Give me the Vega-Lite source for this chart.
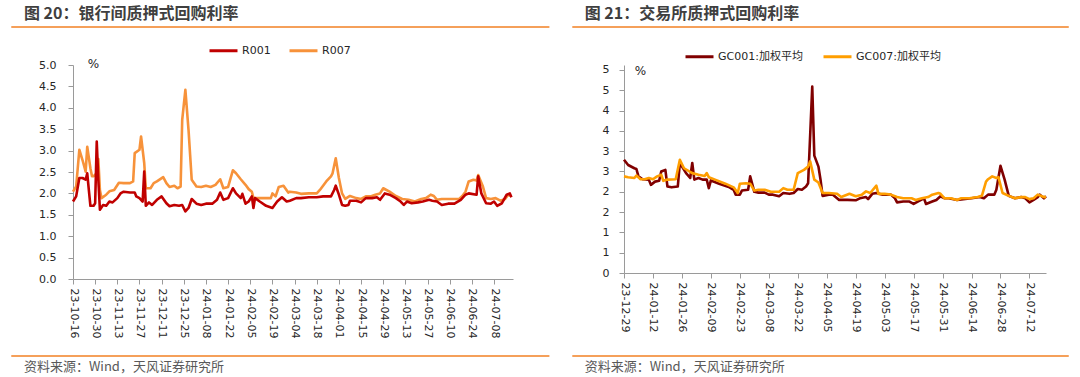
{
  "$schema": "https://vega.github.io/schema/vega-lite/v6.json",
  "padding": {"left": 10, "top": 6, "right": 0, "bottom": 0},
  "bounds": "flush",
  "spacing": 111,
  "config": {
    "view": {"stroke": null},
    "font": "DejaVu Sans",
    "axis": {"grid": false, "domainColor": "#9A9A9A", "tickColor": "#9A9A9A", "labelFont": "DejaVu Sans", "labelFontSize": 11, "labelColor": "#262626", "tickSize": 5}
  },
  "resolve": {"scale": {"x": "independent", "y": "independent", "color": "independent"}, "legend": {"color": "independent"}},
  "hconcat": [
    {
      "width": 440,
      "height": 214,
      "layer": [
        {
          "data": {"values": [
            {"date": "2023/10/16", "series": "R007", "value": 2.04},
            {"date": "2023/10/18", "series": "R007", "value": 2.16},
            {"date": "2023/10/20", "series": "R007", "value": 3.02},
            {"date": "2023/10/22", "series": "R007", "value": 2.78},
            {"date": "2023/10/24", "series": "R007", "value": 2.51},
            {"date": "2023/10/25", "series": "R007", "value": 3.09},
            {"date": "2023/10/27", "series": "R007", "value": 2.59},
            {"date": "2023/10/28", "series": "R007", "value": 2.4},
            {"date": "2023/10/29", "series": "R007", "value": 2.4},
            {"date": "2023/10/31", "series": "R007", "value": 2.47},
            {"date": "2023/11/01", "series": "R007", "value": 2.8},
            {"date": "2023/11/02", "series": "R007", "value": 2.08},
            {"date": "2023/11/03", "series": "R007", "value": 1.89},
            {"date": "2023/11/06", "series": "R007", "value": 1.97},
            {"date": "2023/11/08", "series": "R007", "value": 2.05},
            {"date": "2023/11/11", "series": "R007", "value": 2.08},
            {"date": "2023/11/14", "series": "R007", "value": 2.25},
            {"date": "2023/11/17", "series": "R007", "value": 2.24},
            {"date": "2023/11/21", "series": "R007", "value": 2.24},
            {"date": "2023/11/23", "series": "R007", "value": 2.28},
            {"date": "2023/11/24", "series": "R007", "value": 2.94},
            {"date": "2023/11/27", "series": "R007", "value": 3.02},
            {"date": "2023/11/28", "series": "R007", "value": 3.33},
            {"date": "2023/11/30", "series": "R007", "value": 2.71},
            {"date": "2023/12/01", "series": "R007", "value": 2.12},
            {"date": "2023/12/04", "series": "R007", "value": 2.12},
            {"date": "2023/12/06", "series": "R007", "value": 2.24},
            {"date": "2023/12/08", "series": "R007", "value": 2.28},
            {"date": "2023/12/12", "series": "R007", "value": 2.38},
            {"date": "2023/12/14", "series": "R007", "value": 2.24},
            {"date": "2023/12/16", "series": "R007", "value": 2.15},
            {"date": "2023/12/19", "series": "R007", "value": 2.18},
            {"date": "2023/12/21", "series": "R007", "value": 2.12},
            {"date": "2023/12/23", "series": "R007", "value": 2.16},
            {"date": "2023/12/24", "series": "R007", "value": 3.72},
            {"date": "2023/12/26", "series": "R007", "value": 4.42},
            {"date": "2023/12/28", "series": "R007", "value": 3.48},
            {"date": "2023/12/30", "series": "R007", "value": 2.32},
            {"date": "2024/01/02", "series": "R007", "value": 2.16},
            {"date": "2024/01/05", "series": "R007", "value": 2.15},
            {"date": "2024/01/08", "series": "R007", "value": 2.18},
            {"date": "2024/01/11", "series": "R007", "value": 2.15},
            {"date": "2024/01/14", "series": "R007", "value": 2.2},
            {"date": "2024/01/17", "series": "R007", "value": 2.33},
            {"date": "2024/01/19", "series": "R007", "value": 2.12},
            {"date": "2024/01/22", "series": "R007", "value": 2.15},
            {"date": "2024/01/25", "series": "R007", "value": 2.54},
            {"date": "2024/01/27", "series": "R007", "value": 2.47},
            {"date": "2024/01/30", "series": "R007", "value": 2.33},
            {"date": "2024/02/02", "series": "R007", "value": 2.2},
            {"date": "2024/02/04", "series": "R007", "value": 2.1},
            {"date": "2024/02/06", "series": "R007", "value": 2.04},
            {"date": "2024/02/07", "series": "R007", "value": 1.89},
            {"date": "2024/02/11", "series": "R007", "value": 1.89},
            {"date": "2024/02/15", "series": "R007", "value": 1.89},
            {"date": "2024/02/18", "series": "R007", "value": 1.89},
            {"date": "2024/02/19", "series": "R007", "value": 2.0},
            {"date": "2024/02/21", "series": "R007", "value": 1.93},
            {"date": "2024/02/23", "series": "R007", "value": 2.15},
            {"date": "2024/02/26", "series": "R007", "value": 2.18},
            {"date": "2024/02/29", "series": "R007", "value": 2.02},
            {"date": "2024/03/01", "series": "R007", "value": 2.04},
            {"date": "2024/03/05", "series": "R007", "value": 2.02},
            {"date": "2024/03/08", "series": "R007", "value": 1.99},
            {"date": "2024/03/13", "series": "R007", "value": 2.0},
            {"date": "2024/03/18", "series": "R007", "value": 2.0},
            {"date": "2024/03/20", "series": "R007", "value": 2.08},
            {"date": "2024/03/24", "series": "R007", "value": 2.28},
            {"date": "2024/03/27", "series": "R007", "value": 2.4},
            {"date": "2024/03/28", "series": "R007", "value": 2.47},
            {"date": "2024/03/30", "series": "R007", "value": 2.82},
            {"date": "2024/04/01", "series": "R007", "value": 2.36},
            {"date": "2024/04/03", "series": "R007", "value": 2.0},
            {"date": "2024/04/05", "series": "R007", "value": 1.87},
            {"date": "2024/04/08", "series": "R007", "value": 1.94},
            {"date": "2024/04/12", "series": "R007", "value": 1.89},
            {"date": "2024/04/15", "series": "R007", "value": 1.87},
            {"date": "2024/04/18", "series": "R007", "value": 1.93},
            {"date": "2024/04/21", "series": "R007", "value": 1.93},
            {"date": "2024/04/24", "series": "R007", "value": 1.97},
            {"date": "2024/04/27", "series": "R007", "value": 2.0},
            {"date": "2024/04/29", "series": "R007", "value": 2.12},
            {"date": "2024/05/03", "series": "R007", "value": 2.04},
            {"date": "2024/05/07", "series": "R007", "value": 1.94},
            {"date": "2024/05/11", "series": "R007", "value": 1.87},
            {"date": "2024/05/15", "series": "R007", "value": 1.85},
            {"date": "2024/05/19", "series": "R007", "value": 1.81},
            {"date": "2024/05/23", "series": "R007", "value": 1.87},
            {"date": "2024/05/26", "series": "R007", "value": 1.89},
            {"date": "2024/05/29", "series": "R007", "value": 1.97},
            {"date": "2024/05/31", "series": "R007", "value": 1.94},
            {"date": "2024/06/02", "series": "R007", "value": 1.85},
            {"date": "2024/06/05", "series": "R007", "value": 1.87},
            {"date": "2024/06/11", "series": "R007", "value": 1.87},
            {"date": "2024/06/16", "series": "R007", "value": 1.87},
            {"date": "2024/06/18", "series": "R007", "value": 1.94},
            {"date": "2024/06/20", "series": "R007", "value": 2.04},
            {"date": "2024/06/22", "series": "R007", "value": 2.28},
            {"date": "2024/06/25", "series": "R007", "value": 2.32},
            {"date": "2024/06/27", "series": "R007", "value": 2.3},
            {"date": "2024/06/28", "series": "R007", "value": 2.43},
            {"date": "2024/07/01", "series": "R007", "value": 2.16},
            {"date": "2024/07/03", "series": "R007", "value": 1.89},
            {"date": "2024/07/06", "series": "R007", "value": 1.87},
            {"date": "2024/07/09", "series": "R007", "value": 1.89},
            {"date": "2024/07/12", "series": "R007", "value": 1.83},
            {"date": "2024/07/15", "series": "R007", "value": 1.87},
            {"date": "2024/07/17", "series": "R007", "value": 1.97},
            {"date": "2024/07/19", "series": "R007", "value": 1.93},
            {"date": "2023/10/16", "series": "R001", "value": 1.81},
            {"date": "2023/10/18", "series": "R001", "value": 1.93},
            {"date": "2023/10/20", "series": "R001", "value": 2.36},
            {"date": "2023/10/22", "series": "R001", "value": 2.36},
            {"date": "2023/10/24", "series": "R001", "value": 2.32},
            {"date": "2023/10/25", "series": "R001", "value": 2.47},
            {"date": "2023/10/26", "series": "R001", "value": 2.08},
            {"date": "2023/10/27", "series": "R001", "value": 1.71},
            {"date": "2023/10/29", "series": "R001", "value": 1.71},
            {"date": "2023/10/30", "series": "R001", "value": 1.77},
            {"date": "2023/10/31", "series": "R001", "value": 3.21},
            {"date": "2023/11/01", "series": "R001", "value": 2.32},
            {"date": "2023/11/02", "series": "R001", "value": 1.62},
            {"date": "2023/11/04", "series": "R001", "value": 1.73},
            {"date": "2023/11/06", "series": "R001", "value": 1.71},
            {"date": "2023/11/08", "series": "R001", "value": 1.81},
            {"date": "2023/11/10", "series": "R001", "value": 1.79},
            {"date": "2023/11/13", "series": "R001", "value": 1.89},
            {"date": "2023/11/15", "series": "R001", "value": 2.0},
            {"date": "2023/11/17", "series": "R001", "value": 2.04},
            {"date": "2023/11/21", "series": "R001", "value": 2.02},
            {"date": "2023/11/24", "series": "R001", "value": 2.02},
            {"date": "2023/11/25", "series": "R001", "value": 1.93},
            {"date": "2023/11/27", "series": "R001", "value": 1.89},
            {"date": "2023/11/29", "series": "R001", "value": 1.81},
            {"date": "2023/11/30", "series": "R001", "value": 2.51},
            {"date": "2023/12/01", "series": "R001", "value": 1.71},
            {"date": "2023/12/03", "series": "R001", "value": 1.79},
            {"date": "2023/12/05", "series": "R001", "value": 1.73},
            {"date": "2023/12/08", "series": "R001", "value": 1.85},
            {"date": "2023/12/11", "series": "R001", "value": 1.93},
            {"date": "2023/12/14", "series": "R001", "value": 1.77},
            {"date": "2023/12/16", "series": "R001", "value": 1.7},
            {"date": "2023/12/19", "series": "R001", "value": 1.73},
            {"date": "2023/12/22", "series": "R001", "value": 1.71},
            {"date": "2023/12/24", "series": "R001", "value": 1.73},
            {"date": "2023/12/26", "series": "R001", "value": 1.58},
            {"date": "2023/12/28", "series": "R001", "value": 1.66},
            {"date": "2023/12/30", "series": "R001", "value": 1.87},
            {"date": "2024/01/02", "series": "R001", "value": 1.76},
            {"date": "2024/01/05", "series": "R001", "value": 1.73},
            {"date": "2024/01/08", "series": "R001", "value": 1.76},
            {"date": "2024/01/12", "series": "R001", "value": 1.76},
            {"date": "2024/01/15", "series": "R001", "value": 1.85},
            {"date": "2024/01/17", "series": "R001", "value": 2.02},
            {"date": "2024/01/19", "series": "R001", "value": 1.85},
            {"date": "2024/01/22", "series": "R001", "value": 1.89},
            {"date": "2024/01/25", "series": "R001", "value": 2.12},
            {"date": "2024/01/27", "series": "R001", "value": 2.0},
            {"date": "2024/01/30", "series": "R001", "value": 1.89},
            {"date": "2024/01/31", "series": "R001", "value": 1.99},
            {"date": "2024/02/02", "series": "R001", "value": 1.76},
            {"date": "2024/02/04", "series": "R001", "value": 1.81},
            {"date": "2024/02/06", "series": "R001", "value": 1.93},
            {"date": "2024/02/07", "series": "R001", "value": 1.66},
            {"date": "2024/02/08", "series": "R001", "value": 1.89},
            {"date": "2024/02/11", "series": "R001", "value": 1.81},
            {"date": "2024/02/15", "series": "R001", "value": 1.71},
            {"date": "2024/02/19", "series": "R001", "value": 1.66},
            {"date": "2024/02/22", "series": "R001", "value": 1.81},
            {"date": "2024/02/25", "series": "R001", "value": 1.91},
            {"date": "2024/02/28", "series": "R001", "value": 1.81},
            {"date": "2024/03/01", "series": "R001", "value": 1.83},
            {"date": "2024/03/05", "series": "R001", "value": 1.89},
            {"date": "2024/03/08", "series": "R001", "value": 1.89},
            {"date": "2024/03/13", "series": "R001", "value": 1.91},
            {"date": "2024/03/18", "series": "R001", "value": 1.91},
            {"date": "2024/03/22", "series": "R001", "value": 1.93},
            {"date": "2024/03/27", "series": "R001", "value": 1.93},
            {"date": "2024/03/29", "series": "R001", "value": 2.08},
            {"date": "2024/03/30", "series": "R001", "value": 2.18},
            {"date": "2024/04/01", "series": "R001", "value": 1.97},
            {"date": "2024/04/03", "series": "R001", "value": 1.73},
            {"date": "2024/04/05", "series": "R001", "value": 1.71},
            {"date": "2024/04/07", "series": "R001", "value": 1.73},
            {"date": "2024/04/08", "series": "R001", "value": 1.83},
            {"date": "2024/04/12", "series": "R001", "value": 1.83},
            {"date": "2024/04/15", "series": "R001", "value": 1.79},
            {"date": "2024/04/18", "series": "R001", "value": 1.89},
            {"date": "2024/04/22", "series": "R001", "value": 1.89},
            {"date": "2024/04/25", "series": "R001", "value": 1.91},
            {"date": "2024/04/27", "series": "R001", "value": 1.85},
            {"date": "2024/04/30", "series": "R001", "value": 2.0},
            {"date": "2024/05/03", "series": "R001", "value": 1.97},
            {"date": "2024/05/07", "series": "R001", "value": 1.89},
            {"date": "2024/05/10", "series": "R001", "value": 1.81},
            {"date": "2024/05/12", "series": "R001", "value": 1.73},
            {"date": "2024/05/14", "series": "R001", "value": 1.81},
            {"date": "2024/05/17", "series": "R001", "value": 1.77},
            {"date": "2024/05/21", "series": "R001", "value": 1.79},
            {"date": "2024/05/24", "series": "R001", "value": 1.81},
            {"date": "2024/05/28", "series": "R001", "value": 1.85},
            {"date": "2024/05/30", "series": "R001", "value": 1.83},
            {"date": "2024/06/02", "series": "R001", "value": 1.81},
            {"date": "2024/06/05", "series": "R001", "value": 1.73},
            {"date": "2024/06/09", "series": "R001", "value": 1.76},
            {"date": "2024/06/13", "series": "R001", "value": 1.76},
            {"date": "2024/06/17", "series": "R001", "value": 1.85},
            {"date": "2024/06/20", "series": "R001", "value": 1.97},
            {"date": "2024/06/22", "series": "R001", "value": 2.0},
            {"date": "2024/06/27", "series": "R001", "value": 1.97},
            {"date": "2024/06/28", "series": "R001", "value": 2.4},
            {"date": "2024/06/30", "series": "R001", "value": 2.0},
            {"date": "2024/07/03", "series": "R001", "value": 1.77},
            {"date": "2024/07/06", "series": "R001", "value": 1.76},
            {"date": "2024/07/08", "series": "R001", "value": 1.81},
            {"date": "2024/07/10", "series": "R001", "value": 1.71},
            {"date": "2024/07/13", "series": "R001", "value": 1.77},
            {"date": "2024/07/16", "series": "R001", "value": 1.97},
            {"date": "2024/07/18", "series": "R001", "value": 2.0},
            {"date": "2024/07/19", "series": "R001", "value": 1.91}
          ]},
          "mark": {"type": "line", "strokeWidth": 2.6, "strokeJoin": "round"},
          "encoding": {
            "x": {"field": "date", "type": "temporal",
              "scale": {"domain": [{"year": 2023, "month": 10, "date": 16}, {"year": 2024, "month": 7, "date": 20}]},
              "axis": {"title": null, "format": "%y-%m-%d", "labelAngle": 90, "labelAlign": "left", "labelBaseline": "middle", "labelPadding": 4, "labelOverlap": false, "tickCount": 60,
                "values": [
                  {"year": 2023, "month": 10, "date": 16}, {"year": 2023, "month": 10, "date": 30}, {"year": 2023, "month": 11, "date": 13}, {"year": 2023, "month": 11, "date": 27},
                  {"year": 2023, "month": 12, "date": 11}, {"year": 2023, "month": 12, "date": 25}, {"year": 2024, "month": 1, "date": 8}, {"year": 2024, "month": 1, "date": 22},
                  {"year": 2024, "month": 2, "date": 5}, {"year": 2024, "month": 2, "date": 19}, {"year": 2024, "month": 3, "date": 4}, {"year": 2024, "month": 3, "date": 18},
                  {"year": 2024, "month": 4, "date": 1}, {"year": 2024, "month": 4, "date": 15}, {"year": 2024, "month": 4, "date": 29}, {"year": 2024, "month": 5, "date": 13},
                  {"year": 2024, "month": 5, "date": 27}, {"year": 2024, "month": 6, "date": 10}, {"year": 2024, "month": 6, "date": 24}, {"year": 2024, "month": 7, "date": 8}
                ]}},
            "y": {"field": "value", "type": "quantitative",
              "scale": {"domain": [0, 5], "nice": false, "zero": false},
              "axis": {"title": null, "format": ".1f", "values": [0, 0.5, 1, 1.5, 2, 2.5, 3, 3.5, 4, 4.5, 5], "tickCount": 60, "labelOverlap": false, "labelPadding": 12}},
            "color": {"field": "series", "type": "nominal",
              "scale": {"domain": ["R001", "R007"], "range": ["#C00000", "#F7923A"]},
              "legend": {"orient": "none", "legendX": 135, "legendY": -30, "direction": "horizontal", "title": null, "symbolType": "stroke", "symbolSize": 784, "symbolStrokeWidth": 3, "labelFont": "DejaVu Sans", "labelFontSize": 11, "labelColor": "#262626", "labelOffset": 3, "columnPadding": 12}}
          }
        },
        {
          "data": {"values": [{}]},
          "mark": {"type": "rule", "color": "#F5A05A", "strokeWidth": 2},
          "encoding": {
            "x": {"datum": {"year": 2023, "month": 9, "date": 7}, "type": "temporal", "title": null, "scale": {"domain": [{"year": 2023, "month": 10, "date": 16}, {"year": 2024, "month": 7, "date": 20}]}},
            "x2": {"datum": {"year": 2024, "month": 8, "date": 12}},
            "y": {"datum": 5.888, "type": "quantitative", "title": null, "scale": {"domain": [0, 5], "nice": false, "zero": false}}
          }
        },
        {
          "data": {"values": [{}]},
          "mark": {"type": "rule", "color": "#F5A05A", "strokeWidth": 2},
          "encoding": {
            "x": {"datum": {"year": 2023, "month": 9, "date": 7}, "type": "temporal", "title": null, "scale": {"domain": [{"year": 2023, "month": 10, "date": 16}, {"year": 2024, "month": 7, "date": 20}]}},
            "x2": {"datum": {"year": 2024, "month": 8, "date": 12}},
            "y": {"datum": -1.8, "type": "quantitative", "title": null, "scale": {"domain": [0, 5], "nice": false, "zero": false}}
          }
        },
        {
          "data": {"values": [{}]},
          "mark": {"type": "text", "text": "图 20：银行间质押式回购利率", "align": "left", "baseline": "middle", "font": "Noto Sans CJK SC", "fontSize": 16, "fontWeight": "bold", "color": "#3F3F3F"},
          "encoding": {
            "x": {"datum": {"year": 2023, "month": 9, "date": 15}, "type": "temporal", "title": null, "scale": {"domain": [{"year": 2023, "month": 10, "date": 16}, {"year": 2024, "month": 7, "date": 20}]}},
            "y": {"datum": 6.19, "type": "quantitative", "title": null, "scale": {"domain": [0, 5], "nice": false, "zero": false}}
          }
        },
        {
          "data": {"values": [{}]},
          "mark": {"type": "text", "text": "资料来源：Wind，天风证券研究所", "align": "left", "baseline": "middle", "font": "Noto Sans CJK SC", "fontSize": 13, "color": "#595959"},
          "encoding": {
            "x": {"datum": {"year": 2023, "month": 9, "date": 15}, "type": "temporal", "title": null, "scale": {"domain": [{"year": 2023, "month": 10, "date": 16}, {"year": 2024, "month": 7, "date": 20}]}},
            "y": {"datum": -2.06, "type": "quantitative", "title": null, "scale": {"domain": [0, 5], "nice": false, "zero": false}}
          }
        },
        {
          "data": {"values": [{}]},
          "mark": {"type": "text", "text": "%", "align": "center", "baseline": "middle", "font": "DejaVu Sans", "fontSize": 12, "color": "#262626"},
          "encoding": {
            "x": {"datum": {"year": 2023, "month": 10, "date": 29}, "type": "temporal", "title": null, "scale": {"domain": [{"year": 2023, "month": 10, "date": 16}, {"year": 2024, "month": 7, "date": 20}]}},
            "y": {"datum": 5.02, "type": "quantitative", "title": null, "scale": {"domain": [0, 5], "nice": false, "zero": false}}
          }
        }
      ]
    },
    {
      "width": 422,
      "height": 208,
      "layer": [
        {
          "data": {"values": [
            {"date": "2023/12/29", "series": "GC001:加权平均", "value": 2.79},
            {"date": "2023/12/31", "series": "GC001:加权平均", "value": 2.66},
            {"date": "2024/01/03", "series": "GC001:加权平均", "value": 2.58},
            {"date": "2024/01/04", "series": "GC001:加权平均", "value": 2.56},
            {"date": "2024/01/05", "series": "GC001:加权平均", "value": 2.38},
            {"date": "2024/01/07", "series": "GC001:加权平均", "value": 2.31},
            {"date": "2024/01/10", "series": "GC001:加权平均", "value": 2.3},
            {"date": "2024/01/11", "series": "GC001:加权平均", "value": 2.17},
            {"date": "2024/01/13", "series": "GC001:加权平均", "value": 2.25},
            {"date": "2024/01/15", "series": "GC001:加权平均", "value": 2.27},
            {"date": "2024/01/16", "series": "GC001:加权平均", "value": 2.5},
            {"date": "2024/01/18", "series": "GC001:加权平均", "value": 2.54},
            {"date": "2024/01/19", "series": "GC001:加权平均", "value": 2.13},
            {"date": "2024/01/21", "series": "GC001:加权平均", "value": 2.11},
            {"date": "2024/01/24", "series": "GC001:加权平均", "value": 2.13},
            {"date": "2024/01/25", "series": "GC001:加权平均", "value": 2.71},
            {"date": "2024/01/28", "series": "GC001:加权平均", "value": 2.46},
            {"date": "2024/01/30", "series": "GC001:加权平均", "value": 2.34},
            {"date": "2024/01/31", "series": "GC001:加权平均", "value": 2.71},
            {"date": "2024/02/01", "series": "GC001:加权平均", "value": 2.3},
            {"date": "2024/02/03", "series": "GC001:加权平均", "value": 2.34},
            {"date": "2024/02/05", "series": "GC001:加权平均", "value": 2.3},
            {"date": "2024/02/07", "series": "GC001:加权平均", "value": 2.3},
            {"date": "2024/02/08", "series": "GC001:加权平均", "value": 2.09},
            {"date": "2024/02/09", "series": "GC001:加权平均", "value": 2.28},
            {"date": "2024/02/13", "series": "GC001:加权平均", "value": 2.2},
            {"date": "2024/02/18", "series": "GC001:加权平均", "value": 2.11},
            {"date": "2024/02/20", "series": "GC001:加权平均", "value": 2.05},
            {"date": "2024/02/21", "series": "GC001:加权平均", "value": 1.93},
            {"date": "2024/02/23", "series": "GC001:加权平均", "value": 1.93},
            {"date": "2024/02/24", "series": "GC001:加权平均", "value": 2.03},
            {"date": "2024/02/27", "series": "GC001:加权平均", "value": 2.05},
            {"date": "2024/02/28", "series": "GC001:加权平均", "value": 2.38},
            {"date": "2024/03/01", "series": "GC001:加权平均", "value": 2.0},
            {"date": "2024/03/03", "series": "GC001:加权平均", "value": 1.98},
            {"date": "2024/03/06", "series": "GC001:加权平均", "value": 1.98},
            {"date": "2024/03/08", "series": "GC001:加权平均", "value": 1.93},
            {"date": "2024/03/10", "series": "GC001:加权平均", "value": 1.93},
            {"date": "2024/03/13", "series": "GC001:加权平均", "value": 1.89},
            {"date": "2024/03/15", "series": "GC001:加权平均", "value": 1.97},
            {"date": "2024/03/18", "series": "GC001:加权平均", "value": 1.95},
            {"date": "2024/03/20", "series": "GC001:加权平均", "value": 1.97},
            {"date": "2024/03/22", "series": "GC001:加权平均", "value": 2.07},
            {"date": "2024/03/24", "series": "GC001:加权平均", "value": 2.05},
            {"date": "2024/03/26", "series": "GC001:加权平均", "value": 2.13},
            {"date": "2024/03/27", "series": "GC001:加权平均", "value": 2.21},
            {"date": "2024/03/29", "series": "GC001:加权平均", "value": 4.59},
            {"date": "2024/03/30", "series": "GC001:加权平均", "value": 2.89},
            {"date": "2024/04/01", "series": "GC001:加权平均", "value": 2.62},
            {"date": "2024/04/02", "series": "GC001:加权平均", "value": 2.3},
            {"date": "2024/04/03", "series": "GC001:加权平均", "value": 1.9},
            {"date": "2024/04/06", "series": "GC001:加权平均", "value": 1.93},
            {"date": "2024/04/08", "series": "GC001:加权平均", "value": 1.93},
            {"date": "2024/04/11", "series": "GC001:加权平均", "value": 1.8},
            {"date": "2024/04/15", "series": "GC001:加权平均", "value": 1.8},
            {"date": "2024/04/19", "series": "GC001:加权平均", "value": 1.79},
            {"date": "2024/04/21", "series": "GC001:加权平均", "value": 1.84},
            {"date": "2024/04/24", "series": "GC001:加权平均", "value": 1.87},
            {"date": "2024/04/25", "series": "GC001:加权平均", "value": 1.82},
            {"date": "2024/04/27", "series": "GC001:加权平均", "value": 1.95},
            {"date": "2024/04/29", "series": "GC001:加权平均", "value": 1.97},
            {"date": "2024/05/02", "series": "GC001:加权平均", "value": 1.93},
            {"date": "2024/05/06", "series": "GC001:加权平均", "value": 1.93},
            {"date": "2024/05/08", "series": "GC001:加权平均", "value": 1.84},
            {"date": "2024/05/09", "series": "GC001:加权平均", "value": 1.74},
            {"date": "2024/05/12", "series": "GC001:加权平均", "value": 1.76},
            {"date": "2024/05/15", "series": "GC001:加权平均", "value": 1.76},
            {"date": "2024/05/17", "series": "GC001:加权平均", "value": 1.7},
            {"date": "2024/05/19", "series": "GC001:加权平均", "value": 1.76},
            {"date": "2024/05/22", "series": "GC001:加权平均", "value": 1.84},
            {"date": "2024/05/23", "series": "GC001:加权平均", "value": 1.7},
            {"date": "2024/05/26", "series": "GC001:加权平均", "value": 1.76},
            {"date": "2024/05/28", "series": "GC001:加权平均", "value": 1.8},
            {"date": "2024/05/30", "series": "GC001:加权平均", "value": 1.89},
            {"date": "2024/06/01", "series": "GC001:加权平均", "value": 1.84},
            {"date": "2024/06/03", "series": "GC001:加权平均", "value": 1.84},
            {"date": "2024/06/07", "series": "GC001:加权平均", "value": 1.8},
            {"date": "2024/06/10", "series": "GC001:加权平均", "value": 1.82},
            {"date": "2024/06/14", "series": "GC001:加权平均", "value": 1.84},
            {"date": "2024/06/18", "series": "GC001:加权平均", "value": 1.87},
            {"date": "2024/06/20", "series": "GC001:加权平均", "value": 1.84},
            {"date": "2024/06/22", "series": "GC001:加权平均", "value": 1.93},
            {"date": "2024/06/25", "series": "GC001:加权平均", "value": 1.93},
            {"date": "2024/06/26", "series": "GC001:加权平均", "value": 2.05},
            {"date": "2024/06/28", "series": "GC001:加权平均", "value": 2.64},
            {"date": "2024/06/30", "series": "GC001:加权平均", "value": 2.3},
            {"date": "2024/07/02", "series": "GC001:加权平均", "value": 1.9},
            {"date": "2024/07/05", "series": "GC001:加权平均", "value": 1.84},
            {"date": "2024/07/08", "series": "GC001:加权平均", "value": 1.87},
            {"date": "2024/07/10", "series": "GC001:加权平均", "value": 1.84},
            {"date": "2024/07/12", "series": "GC001:加权平均", "value": 1.74},
            {"date": "2024/07/14", "series": "GC001:加权平均", "value": 1.8},
            {"date": "2024/07/16", "series": "GC001:加权平均", "value": 1.87},
            {"date": "2024/07/17", "series": "GC001:加权平均", "value": 1.93},
            {"date": "2024/07/19", "series": "GC001:加权平均", "value": 1.84},
            {"date": "2024/07/20", "series": "GC001:加权平均", "value": 1.89},
            {"date": "2023/12/29", "series": "GC007:加权平均", "value": 2.38},
            {"date": "2023/12/31", "series": "GC007:加权平均", "value": 2.36},
            {"date": "2024/01/03", "series": "GC007:加权平均", "value": 2.34},
            {"date": "2024/01/04", "series": "GC007:加权平均", "value": 2.4},
            {"date": "2024/01/06", "series": "GC007:加权平均", "value": 2.31},
            {"date": "2024/01/08", "series": "GC007:加权平均", "value": 2.31},
            {"date": "2024/01/10", "series": "GC007:加权平均", "value": 2.34},
            {"date": "2024/01/12", "series": "GC007:加权平均", "value": 2.31},
            {"date": "2024/01/14", "series": "GC007:加权平均", "value": 2.38},
            {"date": "2024/01/16", "series": "GC007:加权平均", "value": 2.42},
            {"date": "2024/01/17", "series": "GC007:加权平均", "value": 2.27},
            {"date": "2024/01/19", "series": "GC007:加权平均", "value": 2.3},
            {"date": "2024/01/23", "series": "GC007:加权平均", "value": 2.31},
            {"date": "2024/01/25", "series": "GC007:加权平均", "value": 2.79},
            {"date": "2024/01/27", "series": "GC007:加权平均", "value": 2.58},
            {"date": "2024/01/31", "series": "GC007:加权平均", "value": 2.46},
            {"date": "2024/02/03", "series": "GC007:加权平均", "value": 2.42},
            {"date": "2024/02/06", "series": "GC007:加权平均", "value": 2.39},
            {"date": "2024/02/07", "series": "GC007:加权平均", "value": 2.46},
            {"date": "2024/02/08", "series": "GC007:加权平均", "value": 2.36},
            {"date": "2024/02/11", "series": "GC007:加权平均", "value": 2.3},
            {"date": "2024/02/16", "series": "GC007:加权平均", "value": 2.2},
            {"date": "2024/02/20", "series": "GC007:加权平均", "value": 2.11},
            {"date": "2024/02/22", "series": "GC007:加权平均", "value": 1.97},
            {"date": "2024/02/23", "series": "GC007:加权平均", "value": 2.2},
            {"date": "2024/02/26", "series": "GC007:加权平均", "value": 2.21},
            {"date": "2024/02/28", "series": "GC007:加权平均", "value": 2.2},
            {"date": "2024/03/01", "series": "GC007:加权平均", "value": 2.03},
            {"date": "2024/03/03", "series": "GC007:加权平均", "value": 2.05},
            {"date": "2024/03/06", "series": "GC007:加权平均", "value": 2.05},
            {"date": "2024/03/09", "series": "GC007:加权平均", "value": 2.0},
            {"date": "2024/03/13", "series": "GC007:加权平均", "value": 2.0},
            {"date": "2024/03/15", "series": "GC007:加权平均", "value": 2.09},
            {"date": "2024/03/17", "series": "GC007:加权平均", "value": 2.05},
            {"date": "2024/03/20", "series": "GC007:加权平均", "value": 2.05},
            {"date": "2024/03/22", "series": "GC007:加权平均", "value": 2.46},
            {"date": "2024/03/25", "series": "GC007:加权平均", "value": 2.54},
            {"date": "2024/03/27", "series": "GC007:加权平均", "value": 2.62},
            {"date": "2024/03/28", "series": "GC007:加权平均", "value": 2.75},
            {"date": "2024/03/30", "series": "GC007:加权平均", "value": 2.3},
            {"date": "2024/04/01", "series": "GC007:加权平均", "value": 2.23},
            {"date": "2024/04/03", "series": "GC007:加权平均", "value": 1.97},
            {"date": "2024/04/06", "series": "GC007:加权平均", "value": 1.97},
            {"date": "2024/04/10", "series": "GC007:加权平均", "value": 1.95},
            {"date": "2024/04/12", "series": "GC007:加权平均", "value": 1.87},
            {"date": "2024/04/16", "series": "GC007:加权平均", "value": 1.95},
            {"date": "2024/04/19", "series": "GC007:加权平均", "value": 1.89},
            {"date": "2024/04/22", "series": "GC007:加权平均", "value": 1.93},
            {"date": "2024/04/24", "series": "GC007:加权平均", "value": 2.01},
            {"date": "2024/04/26", "series": "GC007:加权平均", "value": 1.97},
            {"date": "2024/04/29", "series": "GC007:加权平均", "value": 2.15},
            {"date": "2024/04/30", "series": "GC007:加权平均", "value": 1.95},
            {"date": "2024/05/03", "series": "GC007:加权平均", "value": 1.95},
            {"date": "2024/05/06", "series": "GC007:加权平均", "value": 1.93},
            {"date": "2024/05/09", "series": "GC007:加权平均", "value": 1.87},
            {"date": "2024/05/12", "series": "GC007:加权平均", "value": 1.84},
            {"date": "2024/05/16", "series": "GC007:加权平均", "value": 1.84},
            {"date": "2024/05/18", "series": "GC007:加权平均", "value": 1.8},
            {"date": "2024/05/21", "series": "GC007:加权平均", "value": 1.84},
            {"date": "2024/05/24", "series": "GC007:加权平均", "value": 1.87},
            {"date": "2024/05/26", "series": "GC007:加权平均", "value": 1.93},
            {"date": "2024/05/29", "series": "GC007:加权平均", "value": 1.97},
            {"date": "2024/05/30", "series": "GC007:加权平均", "value": 1.95},
            {"date": "2024/06/01", "series": "GC007:加权平均", "value": 1.84},
            {"date": "2024/06/04", "series": "GC007:加权平均", "value": 1.84},
            {"date": "2024/06/07", "series": "GC007:加权平均", "value": 1.8},
            {"date": "2024/06/09", "series": "GC007:加权平均", "value": 1.84},
            {"date": "2024/06/13", "series": "GC007:加权平均", "value": 1.84},
            {"date": "2024/06/17", "series": "GC007:加权平均", "value": 1.87},
            {"date": "2024/06/19", "series": "GC007:加权平均", "value": 1.9},
            {"date": "2024/06/21", "series": "GC007:加权平均", "value": 2.25},
            {"date": "2024/06/22", "series": "GC007:加权平均", "value": 2.31},
            {"date": "2024/06/24", "series": "GC007:加权平均", "value": 2.38},
            {"date": "2024/06/26", "series": "GC007:加权平均", "value": 2.34},
            {"date": "2024/06/27", "series": "GC007:加权平均", "value": 2.36},
            {"date": "2024/06/29", "series": "GC007:加权平均", "value": 1.97},
            {"date": "2024/07/02", "series": "GC007:加权平均", "value": 1.9},
            {"date": "2024/07/05", "series": "GC007:加权平均", "value": 1.84},
            {"date": "2024/07/08", "series": "GC007:加权平均", "value": 1.87},
            {"date": "2024/07/10", "series": "GC007:加权平均", "value": 1.87},
            {"date": "2024/07/12", "series": "GC007:加权平均", "value": 1.82},
            {"date": "2024/07/14", "series": "GC007:加权平均", "value": 1.84},
            {"date": "2024/07/16", "series": "GC007:加权平均", "value": 1.93},
            {"date": "2024/07/19", "series": "GC007:加权平均", "value": 1.87},
            {"date": "2024/07/20", "series": "GC007:加权平均", "value": 1.87}
          ]},
          "mark": {"type": "line", "strokeWidth": 2.6, "strokeJoin": "round"},
          "encoding": {
            "x": {"field": "date", "type": "temporal",
              "scale": {"domain": [{"year": 2023, "month": 12, "date": 29}, {"year": 2024, "month": 7, "date": 20}]},
              "axis": {"title": null, "format": "%y-%m-%d", "labelAngle": 90, "labelAlign": "left", "labelBaseline": "middle", "labelPadding": 4, "labelOverlap": false, "tickCount": 60,
                "values": [
                  {"year": 2023, "month": 12, "date": 29}, {"year": 2024, "month": 1, "date": 12}, {"year": 2024, "month": 1, "date": 26}, {"year": 2024, "month": 2, "date": 9},
                  {"year": 2024, "month": 2, "date": 23}, {"year": 2024, "month": 3, "date": 8}, {"year": 2024, "month": 3, "date": 22}, {"year": 2024, "month": 4, "date": 5},
                  {"year": 2024, "month": 4, "date": 19}, {"year": 2024, "month": 5, "date": 3}, {"year": 2024, "month": 5, "date": 17}, {"year": 2024, "month": 5, "date": 31},
                  {"year": 2024, "month": 6, "date": 14}, {"year": 2024, "month": 6, "date": 28}, {"year": 2024, "month": 7, "date": 12}
                ]}},
            "y": {"field": "value", "type": "quantitative",
              "scale": {"domain": [0, 5.123], "nice": false, "zero": false},
              "axis": {"title": null, "format": ".0f", "values": [0, 0.5, 1, 1.5, 2, 2.5, 3, 3.5, 4, 4.5, 5], "tickCount": 60, "labelOverlap": false, "labelPadding": 10}},
            "color": {"field": "series", "type": "nominal",
              "scale": {"domain": ["GC001:加权平均", "GC007:加权平均"], "range": ["#800000", "#FF9E00"]},
              "legend": {"orient": "none", "legendX": 60, "legendY": -24, "direction": "horizontal", "title": null, "symbolType": "stroke", "symbolSize": 784, "symbolStrokeWidth": 3, "labelFont": "DejaVu Sans, Noto Sans CJK SC", "labelFontSize": 11, "labelColor": "#262626", "labelOffset": 3, "columnPadding": 14}}
          }
        },
        {
          "data": {"values": [{}]},
          "mark": {"type": "rule", "color": "#F5A05A", "strokeWidth": 2},
          "encoding": {
            "x": {"datum": {"year": 2023, "month": 12, "date": 4}, "type": "temporal", "title": null, "scale": {"domain": [{"year": 2023, "month": 12, "date": 29}, {"year": 2024, "month": 7, "date": 20}]}},
            "x2": {"datum": {"year": 2024, "month": 7, "date": 31}},
            "y": {"datum": 6.059, "type": "quantitative", "title": null, "scale": {"domain": [0, 5.123], "nice": false, "zero": false}}
          }
        },
        {
          "data": {"values": [{}]},
          "mark": {"type": "rule", "color": "#F5A05A", "strokeWidth": 2},
          "encoding": {
            "x": {"datum": {"year": 2023, "month": 12, "date": 4}, "type": "temporal", "title": null, "scale": {"domain": [{"year": 2023, "month": 12, "date": 29}, {"year": 2024, "month": 7, "date": 20}]}},
            "x2": {"datum": {"year": 2024, "month": 7, "date": 31}},
            "y": {"datum": -2.044, "type": "quantitative", "title": null, "scale": {"domain": [0, 5.123], "nice": false, "zero": false}}
          }
        },
        {
          "data": {"values": [{}]},
          "mark": {"type": "text", "text": "图 21：交易所质押式回购利率", "align": "left", "baseline": "middle", "font": "Noto Sans CJK SC", "fontSize": 16, "fontWeight": "bold", "color": "#3F3F3F"},
          "encoding": {
            "x": {"datum": {"year": 2023, "month": 12, "date": 10}, "type": "temporal", "title": null, "scale": {"domain": [{"year": 2023, "month": 12, "date": 29}, {"year": 2024, "month": 7, "date": 20}]}},
            "y": {"datum": 6.379, "type": "quantitative", "title": null, "scale": {"domain": [0, 5.123], "nice": false, "zero": false}}
          }
        },
        {
          "data": {"values": [{}]},
          "mark": {"type": "text", "text": "资料来源：Wind，天风证券研究所", "align": "left", "baseline": "middle", "font": "Noto Sans CJK SC", "fontSize": 13, "color": "#595959"},
          "encoding": {
            "x": {"datum": {"year": 2023, "month": 12, "date": 10}, "type": "temporal", "title": null, "scale": {"domain": [{"year": 2023, "month": 12, "date": 29}, {"year": 2024, "month": 7, "date": 20}]}},
            "y": {"datum": -2.315, "type": "quantitative", "title": null, "scale": {"domain": [0, 5.123], "nice": false, "zero": false}}
          }
        },
        {
          "data": {"values": [{}]},
          "mark": {"type": "text", "text": "%", "align": "center", "baseline": "middle", "font": "DejaVu Sans", "fontSize": 12, "color": "#262626"},
          "encoding": {
            "x": {"datum": {"year": 2024, "month": 1, "date": 6}, "type": "temporal", "title": null, "scale": {"domain": [{"year": 2023, "month": 12, "date": 29}, {"year": 2024, "month": 7, "date": 20}]}},
            "y": {"datum": 4.98, "type": "quantitative", "title": null, "scale": {"domain": [0, 5.123], "nice": false, "zero": false}}
          }
        }
      ]
    }
  ]
}
